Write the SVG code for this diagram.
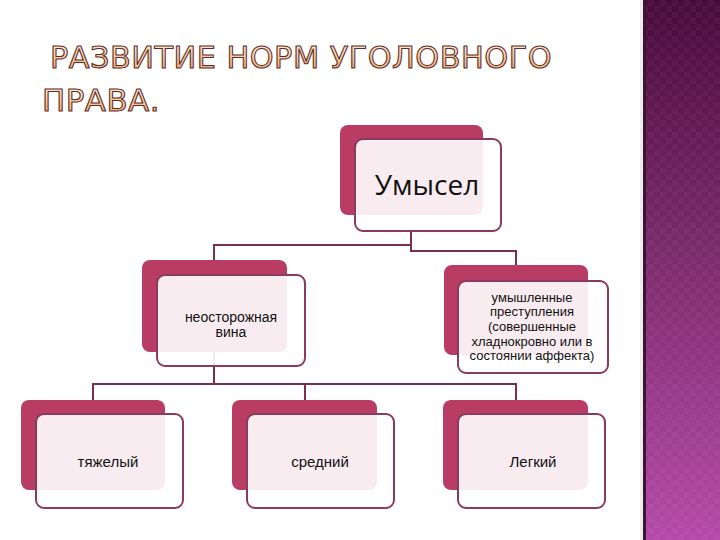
<svg xmlns="http://www.w3.org/2000/svg" width="720" height="540" viewBox="0 0 720 540">
<defs>
  <linearGradient id="panel" x1="0" y1="0" x2="0" y2="1">
    <stop offset="0" stop-color="#4a0b3c"/>
    <stop offset="0.45" stop-color="#7a2a6a"/>
    <stop offset="1" stop-color="#b54aa8"/>
  </linearGradient>
  <linearGradient id="titleFill" x1="0" y1="0" x2="0" y2="1">
    <stop offset="0" stop-color="#fff3e0"/>
    <stop offset="0.5" stop-color="#f8cf9a"/>
    <stop offset="1" stop-color="#f0a060"/>
  </linearGradient>
  <pattern id="checks" width="12" height="12" patternUnits="userSpaceOnUse">
    <rect width="6" height="6" fill="#ffffff" opacity="0.03"/>
    <rect x="6" y="6" width="6" height="6" fill="#ffffff" opacity="0.03"/>
  </pattern>
</defs>
<style>
  .back { fill: #b83c64; }
  .front { fill: #ffffff; fill-opacity: 0.9; stroke: #8a3a5c; stroke-width: 2; }
  .conn { fill: none; stroke: #7a2e50; stroke-width: 2; }
  .lbl { font-family: "Liberation Sans", Arial, sans-serif; fill: #111; text-anchor: middle; }
  .title { font-family: "DejaVu Sans", "Liberation Sans", sans-serif; font-size: 31px; fill: url(#titleFill); stroke: #5e2c30; stroke-width: 1.1; letter-spacing: 0.5px; }
</style>
<rect width="720" height="540" fill="#ffffff"/>
<g id="side-panel">
  <rect x="643" y="0" width="77" height="540" fill="url(#panel)"/>
  <rect x="643" y="0" width="77" height="540" fill="url(#checks)"/>
  <rect x="643" y="0" width="3" height="540" fill="#3a1634"/>
  <rect x="640" y="0" width="3" height="540" fill="#e8dde4" opacity="0.6"/>
</g>
<g id="title">
  <text class="title" x="50" y="68" textLength="502" lengthAdjust="spacingAndGlyphs">РАЗВИТИЕ НОРМ УГОЛОВНОГО</text>
  <text class="title" x="42" y="111" textLength="118" lengthAdjust="spacingAndGlyphs">ПРАВА.</text>
</g>
<g id="connectors">
  <path class="conn" d="M411 230 V245 H214 V262"/>
  <path class="conn" d="M411 245 V251 H516 V266"/>
  <path class="conn" d="M214 352 V384 H93 V401"/>
  <path class="conn" d="M214 384 H305 V401"/>
  <path class="conn" d="M305 384 H516 V401"/>
</g>
<g id="node-umysel">
  <rect class="back" x="340" y="125" width="143" height="90" rx="8"/>
  <rect class="front" x="355" y="139" width="146" height="92" rx="8"/>
  <text class="lbl" x="427" y="195" style="font-family:'Open Sans','Liberation Sans',sans-serif" font-size="28">Умысел</text>
</g>
<g id="node-neostorozhnaya">
  <rect class="back" x="142" y="260" width="145" height="92" rx="8"/>
  <rect class="front" x="157" y="275" width="148" height="91" rx="8"/>
  <text class="lbl" x="231" y="322" font-size="14">неосторожная</text>
  <text class="lbl" x="231" y="337" font-size="14">вина</text>
</g>
<g id="node-umyshlennye">
  <rect class="back" x="444" y="265" width="144" height="90" rx="8"/>
  <rect class="front" x="458" y="281" width="150" height="92" rx="8"/>
  <text class="lbl" x="532" y="302" font-size="13">умышленные</text>
  <text class="lbl" x="532" y="316" font-size="13">преступления</text>
  <text class="lbl" x="532" y="331" font-size="13">(совершенные</text>
  <text class="lbl" x="532" y="346" font-size="13">хладнокровно или в</text>
  <text class="lbl" x="532" y="360" font-size="13">состоянии аффекта)</text>
</g>
<g id="node-tyazhely">
  <rect class="back" x="21" y="400" width="144" height="90" rx="8"/>
  <rect class="front" x="36" y="414" width="147" height="94" rx="8"/>
  <text class="lbl" x="108" y="467" font-size="15">тяжелый</text>
</g>
<g id="node-sredniy">
  <rect class="back" x="232" y="400" width="145" height="90" rx="8"/>
  <rect class="front" x="247" y="414" width="147" height="94" rx="8"/>
  <text class="lbl" x="320" y="467" font-size="15">средний</text>
</g>
<g id="node-legkiy">
  <rect class="back" x="443" y="400" width="145" height="90" rx="8"/>
  <rect class="front" x="458" y="414" width="147" height="94" rx="8"/>
  <text class="lbl" x="533" y="467" font-size="15">Легкий</text>
</g>
</svg>
